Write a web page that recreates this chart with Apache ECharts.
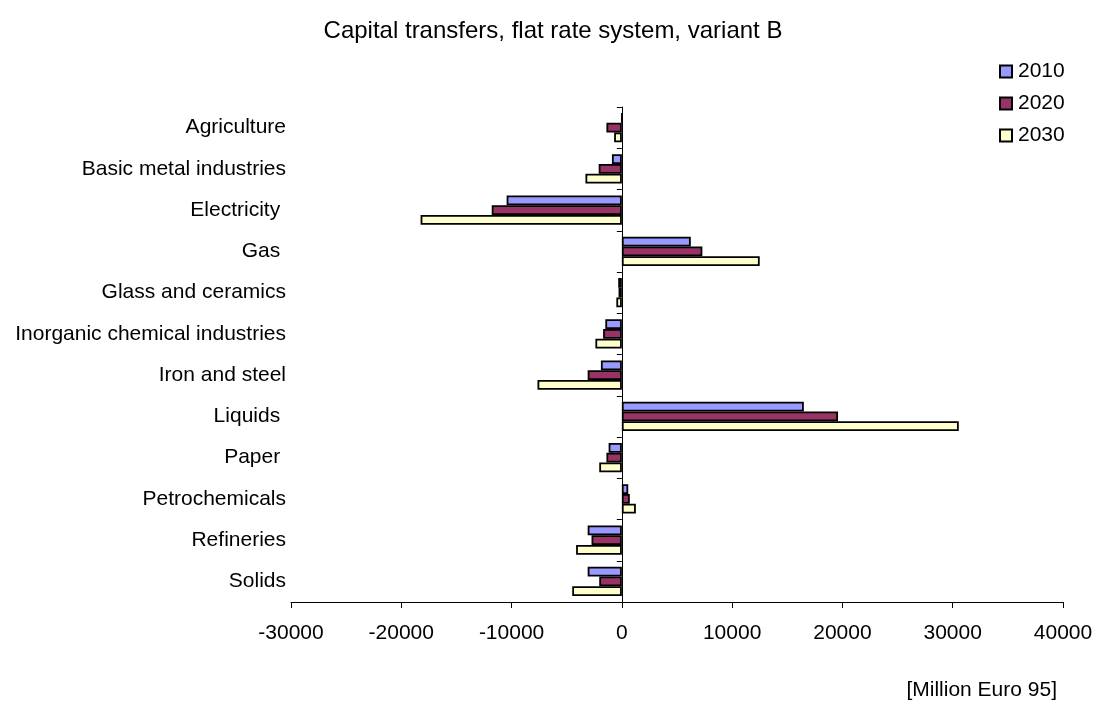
<!DOCTYPE html>
<html>
<head>
<meta charset="utf-8">
<script src="https://cdn.jsdelivr.net/npm/echarts@6/dist/echarts.min.js"></script>
<style>
  html, body { margin: 0; padding: 0; background: #fff; }
  #chart { width: 1099px; height: 702px; }
</style>
</head>
<body>
<div id="chart"></div>
<script>
// Sectors, top to bottom
const categories = [
  'Agriculture', 'Basic metal industries', 'Electricity ', 'Gas ',
  'Glass and ceramics', 'Inorganic chemical industries', 'Iron and steel',
  'Liquids ', 'Paper ', 'Petrochemicals', 'Refineries', 'Solids'
];

// Capital transfers per sector [Million Euro 95]
const values2010 = [0, -900, -10450, 6250, -330, -1500, -1900, 16500, -1200, 580, -3100, -3100];
const values2020 = [-1400, -2100, -11800, 7300, -300, -1700, -3100, 19600, -1400, 720, -2750, -2050];
const values2030 = [-700, -3300, -18250, 12500, -500, -2400, -7650, 30550, -2050, 1270, -4150, -4500];

const seriesNames = ['2010', '2020', '2030'];
const seriesColors = ['#9999FF', '#993366', '#FFFFCC'];
const seriesValues = [values2010, values2020, values2030];

const FONT = 'Liberation Sans, Arial, sans-serif';
const chart = echarts.init(document.getElementById('chart'), null, { renderer: 'canvas' });

chart.setOption({
  animation: false,
  backgroundColor: '#ffffff',
  title: {
    text: 'Capital transfers, flat rate system, variant B',
    left: 548, top: 14, textAlign: 'center',
    textStyle: { fontFamily: FONT, fontSize: 24, fontWeight: 'normal', color: '#000' }
  },
  legend: {
    orient: 'vertical',
    left: 994, top: 56,
    itemWidth: 12, itemHeight: 12, itemGap: 11,
    icon: 'rect',
    textStyle: { fontFamily: FONT, fontSize: 21, color: '#000', padding: [0, 0, 0, 1] },
    data: seriesNames
  },
  graphic: [{
    type: 'text', right: 42, top: 680,
    style: { text: '[Million Euro 95]', font: '21px ' + FONT, fill: '#000' }
  }],
  grid: { left: 291, right: 36, top: 107, bottom: 100, containLabel: false },
  xAxis: {
    type: 'value', min: -30000, max: 40000, interval: 10000,
    axisLine: { show: true, onZero: false, lineStyle: { color: '#000', width: 1 } },
    axisTick: { show: true, length: 6, lineStyle: { color: '#000' } },
    splitLine: { show: false },
    axisLabel: { fontFamily: FONT, fontSize: 21, color: '#000', margin: 21, formatter: v => String(v) }
  },
  yAxis: [{
    type: 'category', data: categories, inverse: true,
    axisLine: { show: false, onZero: false },
    axisTick: { show: false },
    axisLabel: { fontFamily: FONT, fontSize: 21, color: '#000', margin: 5 }
  }, {
    type: 'category', data: categories, inverse: true,
    position: 'left',
    axisLine: { show: true, onZero: true, lineStyle: { color: '#000', width: 1 } },
    axisTick: { show: true, length: 5, alignWithLabel: false, lineStyle: { color: '#000' } },
    axisLabel: { show: false }
  }],
  series: seriesNames.map((name, i) => ({
    name,
    type: 'bar',
    yAxisIndex: 0,
    data: seriesValues[i],
    barGap: '0%',
    barCategoryGap: '29%',
    itemStyle: { color: seriesColors[i], borderColor: '#000', borderWidth: 1.8 }
  }))
});
</script>
</body>
</html>
